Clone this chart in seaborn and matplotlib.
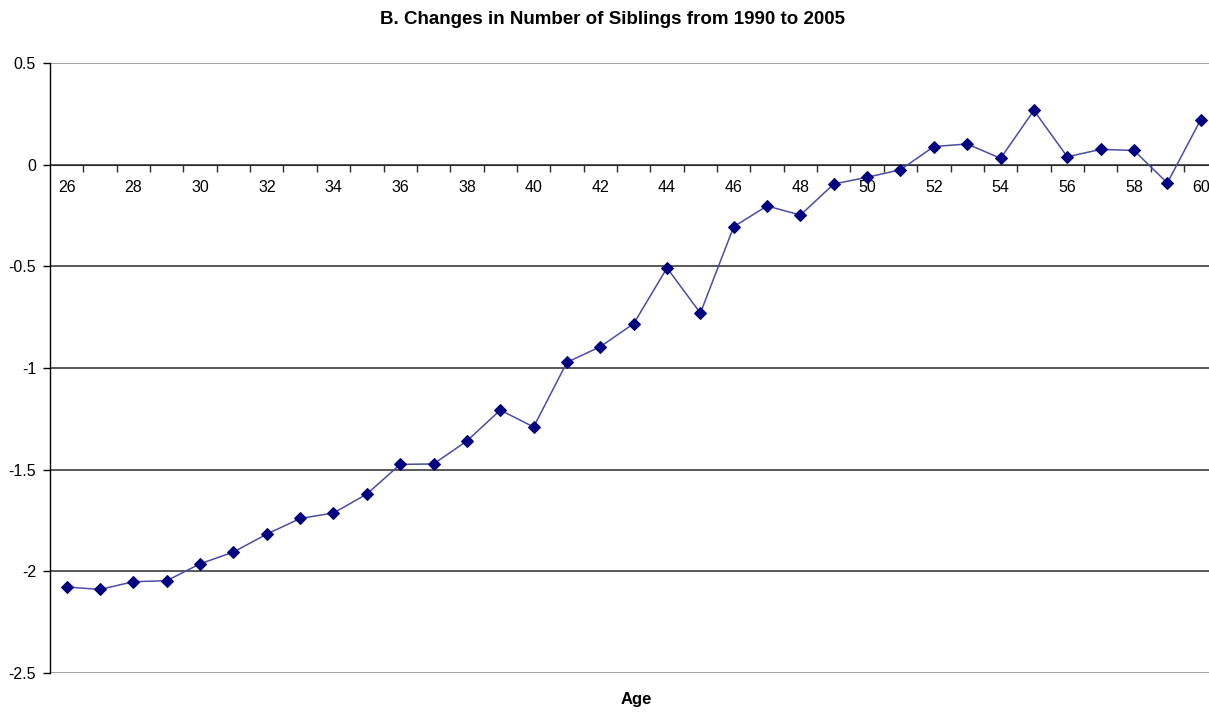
import pandas as pd
import numpy as np
import matplotlib.pyplot as plt
import seaborn as sns
from matplotlib.ticker import FixedLocator, NullFormatter

# Datos
ages = list(range(26, 61))
changes = [-2.077, -2.089, -2.051, -2.046, -1.963, -1.905, -1.817, -1.740, -1.713, -1.620,
           -1.474, -1.472, -1.359, -1.207, -1.290, -0.972, -0.895, -0.782, -0.508, -0.730,
           -0.305, -0.203, -0.248, -0.095, -0.062, -0.025, 0.089, 0.102, 0.031, 0.267,
           0.039, 0.075, 0.070, -0.090, 0.221]
y_ticks = [0.5, 0, -0.5, -1, -1.5, -2, -2.5]
x_labels = list(range(26, 61, 2))

df = pd.DataFrame({'Age': ages, 'Change': changes})

sns.set_style('white')
plt.rcParams['font.family'] = ['Liberation Sans', 'DejaVu Sans']
plt.rcParams['text.color'] = 'black'
plt.rcParams['xtick.color'] = 'black'
plt.rcParams['ytick.color'] = 'black'
plt.rcParams['axes.labelcolor'] = 'black'

fig = plt.figure(figsize=(12.09, 7.12), dpi=100)
ax = fig.add_axes([50 / 1209, 1 - 673 / 712, 1 - 50 / 1209, (673 - 63) / 712])

# lineas horizontales
for v in y_ticks:
    c = '#8c8c8c' if v in (0.5, -2.5) else '#2b2b2b'
    ax.axhline(v, color=c, linewidth=1.1, zorder=1)

sns.lineplot(data=df, x='Age', y='Change', ax=ax, color='#4b4ba8', linewidth=1.1,
             marker='D', markersize=6.5, markerfacecolor='#000080',
             markeredgecolor='#000080', zorder=3)

ax.set_ylim(-2.5, 0.5)
ax.set_xlim(25.5, 60.25)

# eje x en y=0 como en Excel
ax.spines['bottom'].set_position(('data', 0))
ax.spines['bottom'].set_color('#2b2b2b')
ax.spines['top'].set_visible(False)
ax.spines['right'].set_visible(False)
ax.spines['left'].set_color('black')
ax.spines['left'].set_linewidth(1)

ax.set_xticks(x_labels)
ax.set_xticklabels([str(a) for a in x_labels], fontsize=11.5)
ax.xaxis.set_minor_locator(FixedLocator(np.arange(26.5, 60.5, 1)))
ax.xaxis.set_minor_formatter(NullFormatter())
ax.tick_params(axis='x', which='major', bottom=True, length=0, pad=11)
ax.tick_params(axis='x', which='minor', bottom=True, length=5, width=1,
               direction='out', color='#2b2b2b')

ax.set_yticks(y_ticks)
ax.set_yticklabels([f'{v:g}' for v in y_ticks], fontsize=11.5)
ax.tick_params(axis='y', length=5, width=1, direction='out', color='black', pad=5, left=True)

ax.set_xlabel('Age', fontsize=12, fontweight='bold')
ax.xaxis.set_label_coords((636 - 50) / (1209 - 50), -(692 - 673) / (673 - 63))
ax.set_ylabel('')

fig.suptitle('B. Changes in Number of Siblings from 1990 to 2005',
             fontsize=13.5, fontweight='bold', x=612 / 1209, y=1 - 19 / 712, va='center')

fig.savefig('out.png', dpi=100, facecolor='white')
